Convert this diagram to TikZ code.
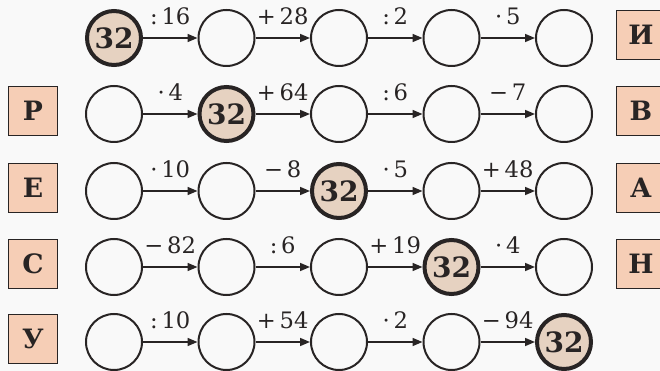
\documentclass[tikz,border=0pt]{standalone}
\usepackage{fontspec}
\setmainfont{DejaVu Serif}
\usetikzlibrary{arrows.meta}

\definecolor{ink}{RGB}{40,36,36}
\definecolor{paper}{RGB}{249,249,249}
\definecolor{startfill}{RGB}{230,210,193}
\definecolor{boxfill}{RGB}{246,206,182}

\begin{document}
\begin{tikzpicture}[x=0.75pt,y=0.75pt]
    \fill[paper] (0,0) rectangle (660,371);
    \useasboundingbox (0,0) rectangle (660,371);

    \tikzset{
        ring/.style={circle, draw=ink, line width=1.5pt, minimum size=42pt, inner sep=0pt},
        start/.style={ring, line width=3pt, minimum size=40.5pt, fill=startfill,
            text=ink, font=\bfseries\fontsize{21}{21}\selectfont},
        letter/.style={draw=ink, line width=1.2pt, fill=boxfill, minimum size=36.5pt,
            inner sep=0pt, text=ink, font=\bfseries\fontsize{20}{20}\selectfont},
        arr/.style={draw=ink, line width=1.2pt, -{Triangle[length=7.5pt,width=6pt]}},
        op/.style={midway, anchor=base, yshift=9.75pt, inner sep=0pt, text=ink,
            font=\fontsize{17}{17}\selectfont},
    }

    % circles, the 32 walks along the diagonal
    \foreach \r/\yy in {1/333,2/257,3/180,4/104,5/29} {
        \foreach \k in {1,...,5} {
            \pgfmathsetmacro\xx{114+112.5*(\k-1)}
            \ifnum\r=\k
                \node[start] (c\r\k) at (\xx,\yy) {32};
            \else
                \node[ring] (c\r\k) at (\xx,\yy) {};
            \fi
        }
    }

    % arrows with operations
    \foreach \r/\ops in {1/{:\,16,+\,28,:\,2,·\,5},
                         2/{·\,4,+\,64,:\,6,−\,7},
                         3/{·\,10,−\,8,·\,5,+\,48},
                         4/{−\,82,:\,6,+\,19,·\,4},
                         5/{:\,10,+\,54,·\,2,−\,94}} {
        \foreach \op [count=\k] in \ops {
            \pgfmathtruncatemacro\n{\k+1}
            \draw[arr] (c\r\k) -- (c\r\n) node[op] {\op};
        }
    }

    % letter boxes
    \foreach \r/\l/\yy in {2/Р/260,3/Е/183,4/С/107,5/У/32}
        \node[letter] (l\r) at (33,\yy) {\l};
    \foreach \r/\l/\yy in {1/И/336,2/В/260,3/А/183,4/Н/107}
        \node[letter] (r\r) at (641,\yy) {\l};
\end{tikzpicture}
\end{document}
